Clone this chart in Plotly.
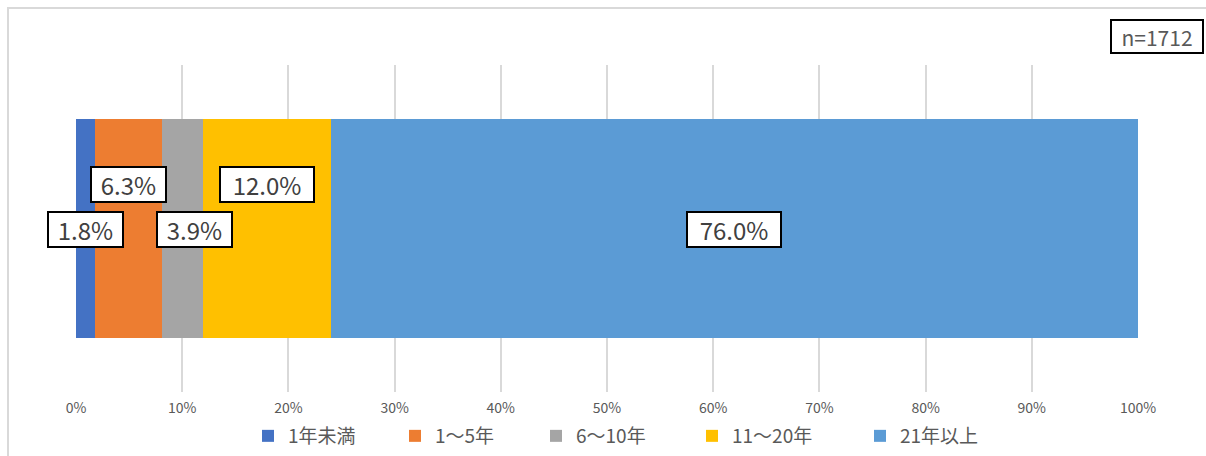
import plotly.graph_objects as go

categories = [""]
series_names = ["1年未満", "1～5年", "6～10年", "11～20年", "21年以上"]
series_values = [1.8, 6.3, 3.9, 12.0, 76.0]
series_colors = ["#4472C4", "#ED7D31", "#A5A5A5", "#FFC000", "#5B9BD5"]
tick_values = list(range(0, 101, 10))
tick_labels = [f"{v}%" for v in tick_values]
n_label = "n=1712"

FONT = "Noto Sans CJK JP"

# plot area in figure pixels
L, T, PW, PH = 76, 65, 1062, 327
W, H = 1206, 456


def px(fx):
    return (fx - L) / PW


def py(fy):
    return (T + PH - fy) / PH


legend_widths = [102, 96, 111, 123, 80]

fig = go.Figure()
for name, val, col, lw in zip(series_names, series_values, series_colors, legend_widths):
    fig.add_trace(go.Bar(
        y=categories, x=[val], name=name, orientation="h",
        marker=dict(color=col, line=dict(width=0)),
        width=0.67, hoverinfo="skip", legendwidth=lw,
    ))

# data labels
label_shifts = [(0, -1), (0, 44), (12, -1), (0, 44), (0, -1)]
cum = 0
for val, (xs, ys) in zip(series_values, label_shifts):
    center = cum + val / 2
    cum += val
    txt = f"{val:.1f}%"
    fig.add_annotation(
        x=center, y=0, xref="x", yref="y", text=txt,
        showarrow=False, xshift=xs, yshift=ys,
        xanchor="center", yanchor="middle",
        font=dict(family=FONT, size=24, color="#404040"),
        width=88 if len(txt) == 5 else 69, height=29,
        bgcolor="white", bordercolor="black", borderwidth=2, borderpad=2,
    )

fig.add_annotation(
    x=px(1157), y=py(36), xref="paper", yref="paper", text=n_label,
    xanchor="center", yanchor="middle",
    showarrow=False, font=dict(family=FONT, size=21, color="#595959"),
    width=86, height=27,
    bgcolor="white", bordercolor="black", borderwidth=2, borderpad=2,
)

# outer chart border
fig.add_shape(type="rect", xref="paper", yref="paper",
              x0=px(8), x1=px(1400), y0=py(600), y1=py(8),
              line=dict(color="#D9D9D9", width=2), fillcolor="rgba(0,0,0,0)",
              layer="below")

fig.update_layout(
    width=W, height=H,
    margin=dict(l=L, r=W - L - PW, t=T, b=H - T - PH, autoexpand=False),
    barmode="stack",
    paper_bgcolor="white", plot_bgcolor="white",
    font=dict(family=FONT, color="#595959"),
    xaxis=dict(range=[0, 100], tickvals=tick_values, ticktext=tick_labels,
               showgrid=True, gridcolor="#D9D9D9", gridwidth=2,
               zeroline=False, showline=False, ticks="", ticklabelstandoff=6,
               tickfont=dict(size=14, color="#595959"), fixedrange=True),
    yaxis=dict(range=[-0.5, 0.5], showticklabels=False, showgrid=False,
               zeroline=False, showline=False, fixedrange=True),
    legend=dict(orientation="h", x=px(248), xanchor="left", y=py(436), yanchor="middle",
                font=dict(size=19, color="#595959"), traceorder="normal",
                itemwidth=30, bgcolor="rgba(0,0,0,0)"),
    showlegend=True,
)

fig.write_html("out.html", config={"displayModeBar": False},
               post_script="document.body.style.margin='0';document.body.style.overflow='hidden';")
